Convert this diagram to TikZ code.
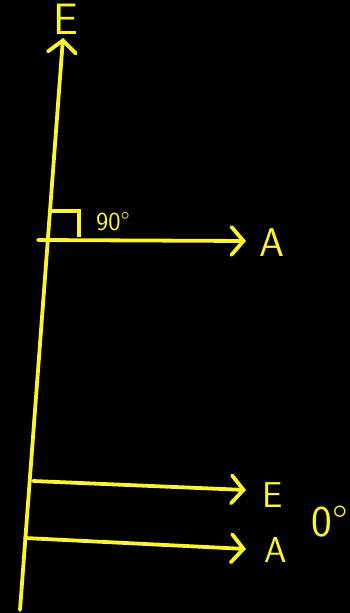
\documentclass[tikz,border=0pt]{standalone}
\usepackage{tikz}
\usetikzlibrary{arrows.meta}
\definecolor{chalk}{RGB}{250,245,45}

\begin{document}
\begin{tikzpicture}[
  x=1pt, y=-1pt,
  every node/.style={text=chalk,inner sep=0pt,font=\sffamily\fontsize{36}{36}\selectfont},
  every path/.style={line width=3.8pt},
  vec/.style={draw=chalk,line cap=round,-{Straight Barb[length=12pt,width=28pt,line cap=round]}},
  big/.style={font=\sffamily\fontsize{44}{44}\selectfont},
  small/.style={font=\sffamily\fontsize{26}{26}\selectfont},
]
\fill[black] (0,0) rectangle (350,613);
\useasboundingbox (0,0) rectangle (350,613);
% axis E
\coordinate(o) at(20,610); \coordinate(eTop) at(63,38);
\draw[vec](o)--(eTop);
\node[big](lblEtop) at(66,19){E};
% A at 90 degrees
\coordinate(a1) at(38,240); \coordinate(a2) at(246,241);
\draw[vec](a1)--(a2);
\node[font=\sffamily\fontsize{40}{40}\selectfont](lblAtop) at(272,243){A};
\draw[draw=chalk](51,211)--(79,211)--(79,237);
\node[small](ang90) at(113,222){90\textdegree};
% in phase
\coordinate(e1) at(33,481); \coordinate(e2) at(246,490);
\draw[vec](e1)--(e2);
\node(lblE) at(273,495){E};
\coordinate(b1) at(25,538); \coordinate(b2) at(246,549);
\draw[vec](b1)--(b2);
\node(lblA) at(276,550){A};
\node[big](ang0) at(330,522){0\textdegree};
\end{tikzpicture}
\end{document}
